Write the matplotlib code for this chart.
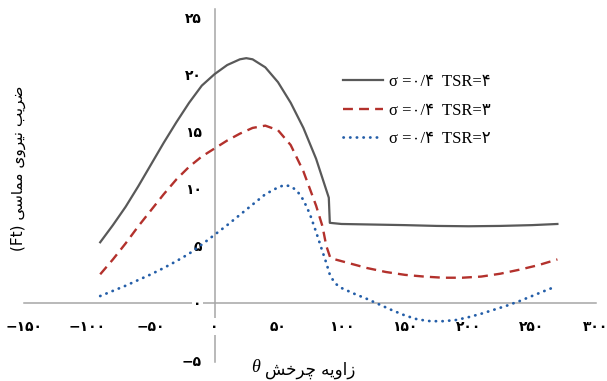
import numpy as np
import matplotlib
matplotlib.use('Agg')
import matplotlib.pyplot as plt
from matplotlib.ticker import FixedLocator, FuncFormatter
from matplotlib.font_manager import FontProperties

# data (theta in degrees, Ft)
theta_tsr4 = [-90, -80, -70, -60, -50, -40, -30, -20, -10, 0, 10, 20, 25, 30, 40, 50, 60, 70,
              80, 90, 90.8, 100, 125, 150, 175, 200, 225, 250, 270]
ft_tsr4 = [5.3, 6.8, 8.4, 10.2, 12.1, 14.0, 15.8, 17.5, 19.0, 20.0, 20.8, 21.3, 21.4, 21.3,
           20.6, 19.3, 17.5, 15.3, 12.6, 9.2, 7.0, 6.9, 6.85, 6.8, 6.73, 6.7, 6.73, 6.8, 6.9]

theta_tsr3 = [-90, -80, -70, -60, -50, -40, -30, -20, -10, 0, 10, 20, 30, 40, 50, 60, 70, 80,
              85, 88, 91, 95, 100, 110, 120, 135, 150, 165, 180, 195, 210, 225, 240, 255, 270]
ft_tsr3 = [2.5, 3.8, 5.2, 6.7, 8.1, 9.5, 10.8, 11.9, 12.8, 13.5, 14.2, 14.8, 15.3, 15.5, 15.1,
           13.8, 11.5, 8.5, 6.7, 5.0, 4.0, 3.8, 3.65, 3.35, 3.05, 2.7, 2.45, 2.3, 2.2, 2.2, 2.3,
           2.55, 2.9, 3.3, 3.8]

theta_tsr2 = [-90, -80, -70, -60, -50, -40, -30, -20, -10, 0, 10, 20, 30, 40, 50, 55, 60, 65,
              70, 75, 80, 85, 88, 91, 95, 100, 110, 120, 130, 140, 150, 160, 170, 180, 190,
              200, 210, 220, 230, 240, 250, 260, 268]
ft_tsr2 = [0.6, 1.05, 1.5, 2.0, 2.5, 3.05, 3.65, 4.3, 5.1, 5.95, 6.8, 7.7, 8.6, 9.5, 10.1,
           10.3, 10.2, 9.8, 9.0, 7.8, 6.2, 4.5, 3.5, 2.4, 1.7, 1.3, 0.8, 0.35, -0.15, -0.65,
           -1.1, -1.45, -1.6, -1.6, -1.5, -1.25, -0.95, -0.6, -0.25, 0.15, 0.6, 1.05, 1.4]

x_ticks = [-150, -100, -50, 0, 50, 100, 150, 200, 250, 300]
y_ticks = [-5, 0, 5, 10, 15, 20, 25]

labels = ['σ =۰/۴  TSR=۴', 'σ =۰/۴  TSR=۳', 'σ =۰/۴  TSR=۲']
ylabel_fa = 'ضریب نیروی مماسی'
xlabel_fa = 'زاویه چرخش'

# matplotlib has no arabic shaping, so pick presentation forms by hand
FORMS = {
    'ا': ('\uFE8D', '\uFE8E'),
    'ب': ('\uFE8F', '\uFE90', '\uFE91', '\uFE92'),
    'خ': ('\uFEA5', '\uFEA6', '\uFEA7', '\uFEA8'),
    'ر': ('\uFEAD', '\uFEAE'),
    'ز': ('\uFEAF', '\uFEB0'),
    'س': ('\uFEB1', '\uFEB2', '\uFEB3', '\uFEB4'),
    'ش': ('\uFEB5', '\uFEB6', '\uFEB7', '\uFEB8'),
    'ض': ('\uFEBD', '\uFEBE', '\uFEBF', '\uFEC0'),
    'م': ('\uFEE1', '\uFEE2', '\uFEE3', '\uFEE4'),
    'ن': ('\uFEE5', '\uFEE6', '\uFEE7', '\uFEE8'),
    'ه': ('\uFEE9', '\uFEEA', '\uFEEB', '\uFEEC'),
    'و': ('\uFEED', '\uFEEE'),
    'ی': ('\uFBFC', '\uFBFD', '\uFBFE', '\uFBFF'),
    'چ': ('\uFB7A', '\uFB7B', '\uFB7C', '\uFB7D'),
}


def rtl(s):
    out = []
    for i, c in enumerate(s):
        if c not in FORMS:
            out.append(c)
            continue
        prev = s[i - 1] if i > 0 else ' '
        nxt = s[i + 1] if i < len(s) - 1 else ' '
        jp = prev in FORMS and len(FORMS[prev]) == 4
        jn = len(FORMS[c]) == 4 and nxt in FORMS
        f = FORMS[c]
        if jp and jn:
            out.append(f[3])
        elif jp:
            out.append(f[1])
        elif jn:
            out.append(f[2])
        else:
            out.append(f[0])
    return ''.join(out[::-1])


FA_DIGITS = str.maketrans('0123456789-', '۰۱۲۳۴۵۶۷۸۹−')


def fa_num(v, pos):
    return str(int(round(v))).translate(FA_DIGITS)


fig = plt.figure(figsize=(6.07, 3.81), dpi=100)
ax = fig.add_axes([24 / 607, 19 / 381, 571.5 / 607, 353 / 381])

l4, = ax.plot(theta_tsr4, ft_tsr4, color='#595959', lw=1.6, solid_joinstyle='round')
l3, = ax.plot(theta_tsr3, ft_tsr3, color='#b3312c', lw=1.7, linestyle=(0, (4.2, 2.6)))
l2, = ax.plot(theta_tsr2, ft_tsr2, color='#245ea8', lw=2.0, linestyle=(0, (0.1, 2.3)),
              dash_capstyle='round')

ax.set_xlim(-150, 300)
ax.set_ylim(-5.17, 25.7)

for s in ['top', 'right']:
    ax.spines[s].set_visible(False)
ax.spines['left'].set_position(('data', 0))
ax.spines['bottom'].set_position(('data', 0))
for s in ['left', 'bottom']:
    ax.spines[s].set_color('#a6a6a6')
    ax.spines[s].set_linewidth(1.1)
    ax.spines[s].set_zorder(1)

ax.xaxis.set_major_locator(FixedLocator(x_ticks))
ax.yaxis.set_major_locator(FixedLocator(y_ticks))
ax.xaxis.set_major_formatter(FuncFormatter(fa_num))
ax.yaxis.set_major_formatter(FuncFormatter(fa_num))
ax.tick_params(axis='x', length=0, pad=12, labelsize=10)
ax.tick_params(axis='y', length=0, pad=9, labelsize=10)
for lbl in ax.get_xticklabels() + ax.get_yticklabels():
    lbl.set_fontweight('bold')
    lbl.set_bbox(dict(facecolor='white', edgecolor='none', pad=1))

leg = ax.legend([l4, l3, l2], labels, loc='upper left',
                bbox_to_anchor=(335 / 607, 1 - 66 / 381), bbox_transform=fig.transFigure,
                frameon=False, borderpad=0, handlelength=2.4, handletextpad=0.35,
                labelspacing=0.75,
                prop=FontProperties(family=['Liberation Serif', 'DejaVu Sans'], size=12))

fig.text(18 / 607, 1 - 168 / 381, '(Ft) ' + rtl(ylabel_fa), rotation=90,
         ha='center', va='center', fontsize=11)
fig.text(265 / 607, 1 - 370 / 381, rtl(xlabel_fa), ha='left', va='center', fontsize=12)
fig.text(256 / 607, 1 - 368 / 381, 'θ', ha='center', va='center', fontsize=13,
         family='Liberation Serif', style='italic')

fig.savefig('out.png', dpi=100)
